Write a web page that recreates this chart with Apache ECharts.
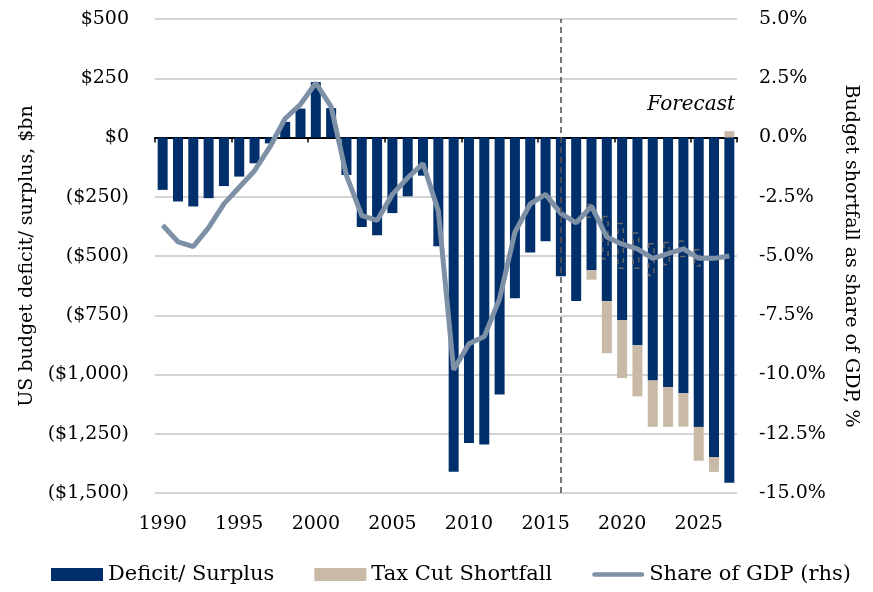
<!DOCTYPE html>
<html><head><meta charset="utf-8">
<script src="https://cdn.jsdelivr.net/npm/echarts@6/dist/echarts.min.js"></script>
<style>html,body{margin:0;padding:0;background:#fff}#c{width:873px;height:592px}</style>
</head><body><div id="c"></div>
<script>
const years = ['1990','1991','1992','1993','1994','1995','1996','1997','1998','1999',
  '2000','2001','2002','2003','2004','2005','2006','2007','2008','2009',
  '2010','2011','2012','2013','2014','2015','2016','2017','2018','2019',
  '2020','2021','2022','2023','2024','2025','2026','2027'];
const deficit = [-221,-270,-291,-256,-205,-165,-109,-25,66,122,
  234,124,-158,-378,-412,-319,-248,-161,-459,-1410,
  -1289,-1295,-1084,-678,-485,-438,-585,-690,-560,-690,
  -770,-877,-1025,-1053,-1079,-1221,-1348,-1457];
const taxCut = [null,null,null,null,null,null,null,null,null,null,
  null,null,null,null,null,null,null,null,null,null,
  null,null,null,null,null,null,null,null,-40,-220,
  -245,-215,-196,-168,-141,-143,-63,27];
const gdpShare = [-3.7,-4.4,-4.6,-3.8,-2.8,-2.1,-1.4,-0.4,0.8,1.4,
  2.3,1.3,-1.6,-3.3,-3.5,-2.4,-1.7,-1.1,-3.1,-9.8,
  -8.7,-8.4,-6.8,-4.0,-2.8,-2.4,-3.2,-3.6,-2.9,-4.2,
  -4.5,-4.7,-5.1,-4.9,-4.7,-5.1,-5.1,-5.0];
const boxTop = [null,null,null,null,null,null,null,null,null,null,
  null,null,null,null,null,null,null,null,null,null,
  null,null,null,null,null,null,null,null,-2.8,-3.3,
  -3.6,-4.0,-4.45,-4.4,-4.35,-4.7,null,null];
const boxBottom = [null,null,null,null,null,null,null,null,null,null,
  null,null,null,null,null,null,null,null,null,null,
  null,null,null,null,null,null,null,null,-3.4,-5.15,
  -5.55,-5.55,-5.85,-5.4,-5.05,-5.45,null,null];
const leftTicks = {'500':'$500','250':'$250','0':'$0','-250':'($250)','-500':'($500)',
  '-750':'($750)','-1000':'($1,000)','-1250':'($1,250)','-1500':'($1,500)'};
const forecastYear = '2016';

const boxHeight = boxTop.map((t,i)=> t==null ? null : +(boxBottom[i]-t).toFixed(2));
const FONT = 'DejaVu Serif';
const chart = echarts.init(document.getElementById('c'), null, {renderer:'canvas'});
chart.setOption({
  animation:false,
  grid:{left:155,right:136,top:19,bottom:99,containLabel:false},
  legend:{
    left:46, bottom:2, itemWidth:52, itemHeight:13, itemGap:40,
    textStyle:{fontFamily:FONT,fontSize:21,color:'#000'},
    data:[{name:'Deficit/ Surplus',icon:'rect'},{name:'Tax Cut Shortfall',icon:'rect'},
          {name:'Share of GDP (rhs)',icon:'path://M2,0H56A2,2 0 0 1 56,5H2A2,2 0 0 1 2,0Z'}]
  },
  xAxis:[
    {type:'category',data:years,position:'bottom',
     axisLine:{show:false,onZero:false},axisTick:{show:false},
     axisLabel:{interval:4,margin:22,fontFamily:FONT,fontSize:19,color:'#000'}},
    {type:'category',data:years,position:'bottom',
     axisLine:{show:true,onZero:true,onZeroAxisIndex:0,lineStyle:{color:'#000',width:2}},
     axisTick:{show:true,interval:4,length:5,lineStyle:{color:'#000',width:1.5}},
     axisLabel:{show:false}}
  ],
  yAxis:[
    {type:'value',min:-1500,max:500,interval:250,
     name:'US budget deficit/ surplus, $bn',nameLocation:'middle',nameRotate:90,nameGap:116,
     nameTextStyle:{fontFamily:FONT,fontSize:19,color:'#000'},
     axisLine:{show:false},axisTick:{show:false},
     axisLabel:{margin:26,fontFamily:FONT,fontSize:19,color:'#000',formatter:v=>leftTicks[String(v)]},
     splitLine:{lineStyle:{color:'#c4c4c4',width:1.5}}},
    {type:'value',min:-15,max:5,interval:2.5,
     name:'Budget shortfall as share of GDP, %',nameLocation:'middle',nameRotate:-90,nameGap:104,
     nameTextStyle:{fontFamily:FONT,fontSize:19,color:'#000'},
     axisLine:{show:false},axisTick:{show:false},
     axisLabel:{margin:22,fontFamily:FONT,fontSize:19,color:'#000',formatter:v=>v.toFixed(1)+'%'},
     splitLine:{show:false}}
  ],
  series:[
    {name:'boxBase',type:'bar',yAxisIndex:1,stack:'box',data:boxTop,barWidth:7,silent:true,
     itemStyle:{color:'rgba(0,0,0,0)'},z:3},
    {name:'boxRange',type:'bar',yAxisIndex:1,stack:'box',data:boxHeight,barWidth:7,silent:true,
     itemStyle:{color:'rgba(0,0,0,0)',borderColor:'#666',borderWidth:1.5,borderType:[5,5]},z:3},
    {name:'Deficit/ Surplus',type:'bar',stack:'a',data:deficit,barWidth:10,barGap:'-100%',
     itemStyle:{color:'#002f6c'},
     markLine:{silent:true,symbol:'none',label:{show:false},
       lineStyle:{color:'#555',width:1.6,type:[6,4]},data:[{xAxis:forecastYear}]}},
    {name:'Tax Cut Shortfall',type:'bar',stack:'a',data:taxCut,barWidth:10,barGap:'-100%',
     itemStyle:{color:'#c8baa6'}},
    {name:'Share of GDP (rhs)',type:'line',yAxisIndex:1,data:gdpShare,symbol:'none',z:4,
     lineStyle:{color:'#7d90a6',width:5},itemStyle:{color:'#7d90a6'}}
  ],
  graphic:[{type:'text',right:873-735,top:95,
    style:{text:'Forecast',font:'italic 20px "DejaVu Serif"',fill:'#000'}}]
});
</script></body></html>
